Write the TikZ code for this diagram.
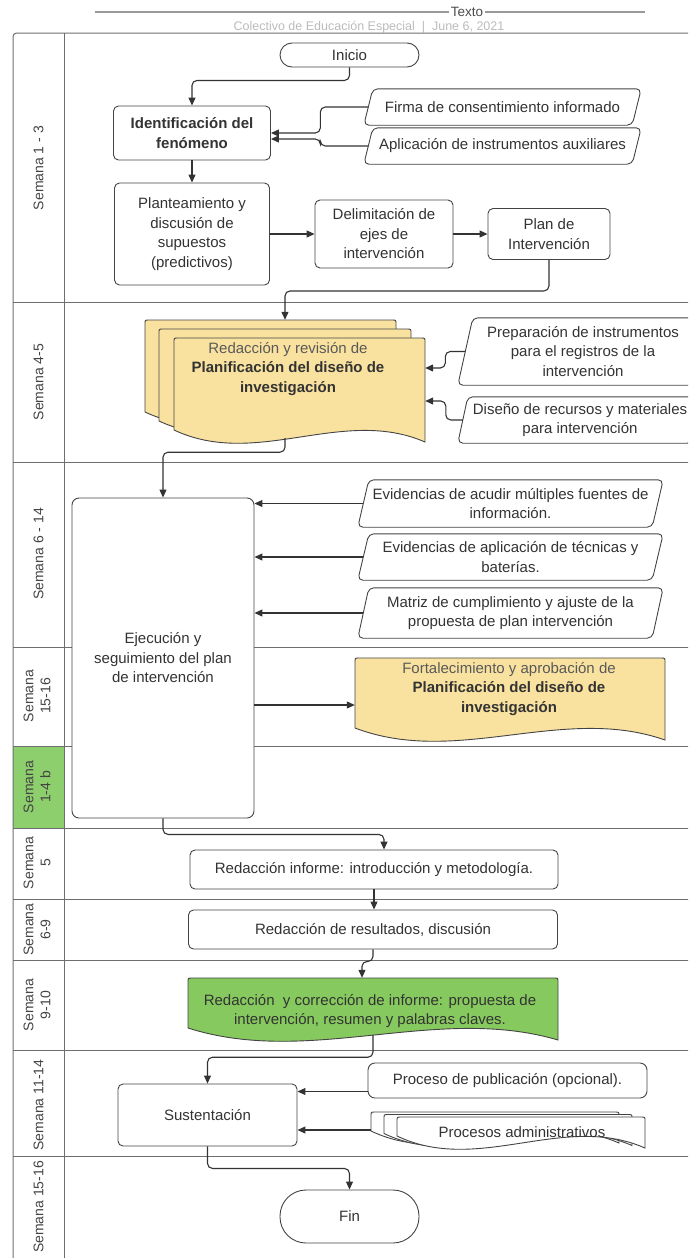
\documentclass[tikz,border=0pt]{standalone}
\usepackage{fontspec}
\setmainfont{Liberation Sans}
\usetikzlibrary{arrows.meta,calc}
\definecolor{ln}{HTML}{333333}
\definecolor{bd}{HTML}{444444}
\definecolor{txt}{HTML}{333333}
\definecolor{lbc}{HTML}{444444}
\definecolor{lanec}{HTML}{6E6E6E}
\definecolor{yel}{HTML}{F9E2A0}
\definecolor{grn}{HTML}{86C95E}
\definecolor{grncell}{HTML}{8DCF6C}
\definecolor{subc}{HTML}{BBBBBB}

\newcommand\docshape[5][]{%
 \draw[#1] (#2,{#5-12}) -- (#2,{#3+4}) .. controls (#2,#3) .. ({#2+4},#3) -- ({#4-4},#3) .. controls (#4,#3) .. (#4,{#3+4}) -- (#4,#5) .. controls ({#2+0.67*(#4-#2)},{#5-36}) and ({#2+0.33*(#4-#2)},{#5+27}) .. (#2,{#5-12}) -- cycle;}
\newcommand\para[2]{\draw[parastyle] ([xshift=#2pt]#1.north west) -- (#1.north east) -- ([xshift=-#2pt]#1.south east) -- (#1.south west) -- cycle;}

\begin{document}
\begin{tikzpicture}[x=1pt,y=-1pt,
  every node/.style={font=\fontsize{15}{19.5}\selectfont, text=txt, inner sep=0pt},
  box/.style={draw=bd, line width=0.9pt, rounded corners=5pt, fill=white, align=center},
  plain/.style={align=center},
  parastyle/.style={draw=bd, line width=0.9pt, rounded corners=5pt},
  docfill/.style={draw=bd, line width=0.9pt, fill=yel},
  grnfill/.style={draw=bd, line width=0.9pt, fill=grn},
  backfill/.style={draw=bd, line width=0.9pt, fill=white},
  arr/.style={draw=ln, line width=1.1pt, rounded corners=5pt, -{Triangle[length=8pt,width=7pt]}},
  frame/.style={draw=lanec, line width=1pt},
  lbl/.style={rotate=90, align=center, font=\fontsize{14}{17}\selectfont, text=lbc}]
\useasboundingbox (0,0) rectangle (688,1258);
\clip (0,0) rectangle (688,1258);

% header
\draw[draw=black!40, line width=1.4pt] (95,12) -- (645,12);
\node[fill=white, inner sep=1.5pt, font=\fontsize{13.5}{16}\selectfont, text=black!70] (ttl) at (467,12) {Texto};
\node[font=\fontsize{12.5}{15}\selectfont, text=subc] (subt) at (369,27) {Colectivo de Educación Especial \ | \ June 6, 2021};

% lanes
\fill[grncell] (13,746) rectangle (64,828);
\draw[frame] (700,33) -- (21,33) .. controls (13,33) .. (13,41) -- (13,1270);
\draw[frame] (64,33) -- (64,1270);
\foreach \yy in {302,462,647,746,828,899,960,1050,1156} \draw[frame] (13,\yy) -- (700,\yy);

\node[lbl] (l1) at (38.5,168) {Semana 1 - 3};
\node[lbl] (l2) at (38.5,382) {Semana 4-5};
\node[lbl] (l3) at (38.5,554) {Semana 6 - 14};
\node[lbl] (l4) at (37,696) {Semana\\15-16};
\node[lbl] (l5) at (37,787) {Semana\\1-4 b};
\node[lbl] (l6) at (37,863) {Semana\\5};
\node[lbl] (l7) at (37,929.5) {Semana\\6-9};
\node[lbl] (l8) at (37,1005) {Semana\\9-10};
\node[lbl] (l9) at (38.5,1105) {Semana 11-14};
\node[lbl] (l10) at (38.5,1207) {Semana 15-16};

% lane 1
\node[box, minimum width=139pt, minimum height=24pt, rounded corners=12pt] (ini) at (349.5,55) {Inicio};
\node[box, minimum width=157pt, minimum height=54pt, font=\bfseries\fontsize{15}{19.5}\selectfont] (iden) at (192,133) {Identificación del\\fenómeno};
\node[plain, minimum width=277pt, minimum height=36pt] (firma) at (502.5,107) {Firma de consentimiento informado};
\para{firma}{9}
\node[plain, minimum width=277pt, minimum height=36pt] (aplic) at (502.5,146) {Aplicación de instrumentos auxiliares};
\para{aplic}{9}
\node[box, minimum width=155pt, minimum height=102pt] (plant) at (192,234) {Planteamiento y\\discusión de\\supuestos\\(predictivos)};
\node[box, minimum width=138pt, minimum height=68pt] (delim) at (384,234) {Delimitación de\\ejes de\\intervención};
\node[box, minimum width=122pt, minimum height=51pt] (plan) at (549,234) {Plan de\\Intervención};

% lane 2
\docshape[docfill]{145}{320}{396}{424}
\docshape[docfill]{159}{329}{411}{433}
\docshape[docfill]{174}{338}{425}{442}
\node[plain, minimum width=280pt, minimum height=122pt] (docA) at (285,381) {};
\node[plain] (docAt) at (288,369) {\textcolor{black!65}{Redacción y revisión de}\\\textbf{Planificación del diseño de}\\\textbf{investigación}};
\node[plain, minimum width=250pt, minimum height=67pt] (prep) at (583,351.5) {Preparación de instrumentos\\para el registros de la\\intervención};
\para{prep}{15}
\node[plain, minimum width=244pt, minimum height=46pt] (dise) at (580,420) {Diseño de recursos y materiales\\para intervención};
\para{dise}{10}

% lane 3
\node[box, minimum width=182pt, minimum height=320pt, rounded corners=7pt] (ejec) at (163,658) {Ejecución y\\seguimiento del plan\\de intervención};
\node[plain, minimum width=305pt, minimum height=47pt] (ev1) at (510.5,503.5) {Evidencias de acudir múltiples fuentes de\\información.};
\para{ev1}{11}
\node[plain, minimum width=305pt, minimum height=46pt] (ev2) at (510.5,557) {Evidencias de aplicación de técnicas y\\baterías.};
\para{ev2}{11}
\node[plain, minimum width=305pt, minimum height=50pt] (matr) at (510.5,613) {Matriz de cumplimiento y ajuste de la\\propuesta de plan intervención};
\para{matr}{11}

% lane 4
\docshape[docfill]{355}{658}{665}{740}
\node[plain, minimum width=310pt, minimum height=82pt] (fort) at (510,699) {};
\node[plain] (fortt) at (509,689) {\textcolor{black!65}{Fortalecimiento y aprobación de}\\\textbf{Planificación del diseño de}\\\textbf{investigación}};

% lanes 6-8
\node[box, minimum width=368pt, minimum height=39pt] (inf) at (374,869.5) {Redacción informe: introducción y metodología.};
\node[box, minimum width=369pt, minimum height=39pt] (res) at (373,929.5) {Redacción de resultados, discusión};
\docshape[grnfill]{188}{978}{558}{1040}
\node[plain, minimum width=370pt, minimum height=62pt] (grnd) at (373,1009) {};
\node[plain] (grndt) at (370,1011) {Redacción\ \ y corrección de informe: propuesta de\\intervención, resumen y palabras claves.};

% lane 9
\node[box, minimum width=179pt, minimum height=62pt] (sus) at (207.5,1115) {Sustentación};
\node[box, minimum width=279pt, minimum height=35pt, rounded corners=7pt] (pub) at (507.5,1080.5) {Proceso de publicación (opcional).};
\docshape[backfill]{371}{1112}{619}{1143}
\docshape[backfill]{384}{1114.5}{632}{1145.5}
\docshape[backfill]{397}{1117}{645}{1148}
\node[plain, minimum width=274pt, minimum height=36pt] (admin) at (508,1130) {};
\node[plain] (admint) at (522,1132) {Procesos administrativos};

% lane 10
\node[box, minimum width=139pt, minimum height=53pt, rounded corners=26pt] (fin) at (349.5,1216.5) {Fin};

% connectors
\draw[arr] (ini.south) -- ++(0,13) -| (iden.north);
\draw[arr] ([xshift=4.5pt]firma.west) -- ++(-48,0) |- (iden.east);
\draw[arr] ([xshift=4.5pt]aplic.west) -- ++(-48,0) |- ([yshift=-6pt]iden.east);
\draw[arr] (iden.south) -- (plant.north);
\draw[arr] (plant.east) -- (delim.west);
\draw[arr] (delim.east) -- (plan.west);
\draw[arr] (plan.south) -- ++(0,31) -| (docA.north);
\draw[arr] ([xshift=7.5pt]prep.west) -- ++(-20,0) |- ([yshift=13pt]docA.east);
\draw[arr] ([xshift=5pt]dise.west) -- ++(-17,0) |- ([yshift=-20pt]docA.east);
\draw[arr] ([yshift=4pt]docA.south) -- ++(0,14) -| (ejec.north);
\draw[arr] ([xshift=5.5pt]ev1.west) -- (ev1.west -| ejec.east);
\draw[arr] ([xshift=5.5pt]ev2.west) -- (ev2.west -| ejec.east);
\draw[arr] ([xshift=5.5pt]matr.west) -- (matr.west -| ejec.east);
\coordinate (fa) at ([yshift=-6pt]fort.west);
\draw[arr] (ejec.east |- fa) -- (fa);
\draw[arr] (ejec.south) -- ++(0,16) -| ([xshift=10pt]inf.north);
\draw[arr] (inf.south) -- (inf.south |- res.north);
\draw[arr] (res.south) -- ++(0,12) -| ([xshift=-11pt]grnd.north);
\draw[arr] ([yshift=5pt]grnd.south) -- ++(0,22) -| (sus.north);
\coordinate (pa) at ([yshift=-11pt]pub.west);
\draw[arr] (pa) -- (pa -| sus.east);
\draw[arr] (admin.west) -- (admin.west -| sus.east);
\draw[arr] (sus.south) -- ++(0,22) -| (fin.north);
\end{tikzpicture}
\end{document}
